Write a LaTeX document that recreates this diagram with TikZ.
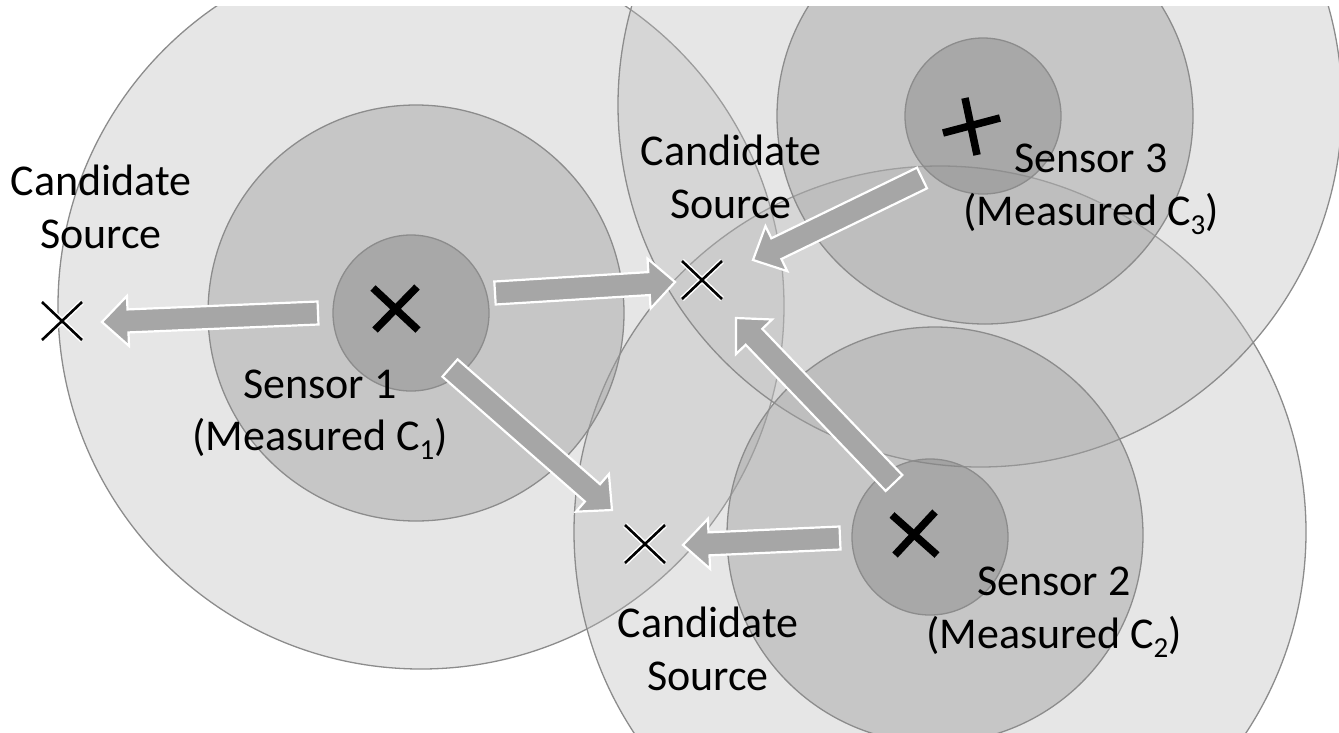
\documentclass[tikz,border=0pt]{standalone}
\usepackage{fontspec}
\setmainfont{Carlito}
\usetikzlibrary{calc}
\newcommand{\blockarr}[2]{%
  \path ($(#2)!26pt!(#1)$) coordinate (hb);
  \filldraw[blk] ($(#1)!11.5pt!90:(#2)$) -- ($(hb)!11.5pt!-90:(#1)$) -- ($(hb)!25pt!-90:(#1)$) -- (#2) -- ($(hb)!25pt!90:(#1)$) -- ($(hb)!11.5pt!90:(#1)$) -- ($(#1)!11.5pt!-90:(#2)$) -- cycle;}
\newcommand{\lowsub}[1]{\raisebox{-0.22em}{\fontsize{29}{30}\selectfont #1}}
\begin{document}
\begin{tikzpicture}[x=1pt,y=-1pt,
  ring/.style={draw=black!45, line width=1.3pt},
  outer/.style={ring, fill=black!27, fill opacity=0.36},
  middle/.style={ring, fill=black!37, fill opacity=0.45},
  inner/.style={ring, fill=black!53, fill opacity=0.39},
  blk/.style={fill=black!35, draw=white, line width=2.2pt, line join=miter},
  lbl/.style={font=\fontsize{44}{52}\selectfont, text=black, anchor=base, inner sep=0pt},
  smark/.style={line width=7.5pt, black, line cap=butt},
  cmark/.style={line width=2.6pt, black},
  halo/.style={line width=5.5pt, white}]
\useasboundingbox (0,0) rectangle (1339,732);
\begin{scope}
\clip (0,6) rectangle (1339,732);
% outer circles
\draw[outer] (421,306) circle[radius=363pt];
\draw[outer] (940,532) circle[radius=366pt];
\draw[outer] (980,105) circle[radius=362pt];
% middle circles
\draw[middle] (416,313) circle[radius=208pt];
\draw[middle] (935,535) circle[radius=208pt];
\draw[middle] (985,116) circle[radius=208pt];
% inner circles
\draw[inner] (411,313) circle[radius=78pt];
\draw[inner] (930,537) circle[radius=78pt];
\draw[inner] (983,116) circle[radius=78pt];
\end{scope}
% sensors and candidates
\coordinate (s1) at (396,309);
\coordinate (s2) at (915,534);
\coordinate (s3) at (971,126);
\coordinate (c1) at (62,321);
\coordinate (c2) at (702,280);
\coordinate (c3) at (645,544);
% arrow ends
\coordinate (a1t) at (318,313); \coordinate (a1h) at (102,322);
\coordinate (a2t) at (495,293); \coordinate (a2h) at (675,282);
\coordinate (a3t) at (450,368); \coordinate (a3h) at (612,510);
\coordinate (a4t) at (840,538); \coordinate (a4h) at (683,545);
\coordinate (a5t) at (894,483); \coordinate (a5h) at (736,318);
\coordinate (a6t) at (922,178); \coordinate (a6h) at (753,260);
\blockarr{a1t}{a1h}
\blockarr{a2t}{a2h}
\blockarr{a3t}{a3h}
\blockarr{a4t}{a4h}
\blockarr{a5t}{a5h}
\blockarr{a6t}{a6h}
% sensor marks
\draw[smark] ($(s1)+(-23,-21)$) -- ($(s1)+(22,21)$);
\draw[smark] ($(s1)+(21,-22)$) -- ($(s1)+(-21,21)$);
\draw[smark] ($(s2)+(-23,-19)$) -- ($(s2)+(22,21)$);
\draw[smark] ($(s2)+(20,-22)$) -- ($(s2)+(-20,21)$);
\draw[smark] ($(s3)+(-6,-28)$) -- ($(s3)+(6,29)$);
\draw[smark] ($(s3)+(-28,7)$) -- ($(s3)+(29,-8)$);
% candidate marks
\foreach \c in {c1,c2,c3}{
  \draw[halo] ($(\c)+(-20,-19)$) -- ($(\c)+(20,19)$);
  \draw[halo] ($(\c)+(20,-19)$) -- ($(\c)+(-20,19)$);
  \draw[cmark] ($(\c)+(-20,-19)$) -- ($(\c)+(20,19)$);
  \draw[cmark] ($(\c)+(20,-19)$) -- ($(\c)+(-20,19)$);
}
% labels
\node[lbl] (l1a) at (101,195) {Candidate};
\node[lbl] (l1b) at (101,248) {Source};
\node[lbl] (l2a) at (731,165) {Candidate};
\node[lbl] (l2b) at (731,218) {Source};
\node[lbl] (l3a) at (708,637) {Candidate};
\node[lbl] (l3b) at (708,690) {Source};
\node[lbl] (t1a) at (320,398) {Sensor 1};
\node[lbl] (t1b) at (320,450) {(Measured C\lowsub{1})};
\node[lbl] (t2a) at (1054,595) {Sensor 2};
\node[lbl] (t2b) at (1054,648) {(Measured C\lowsub{2})};
\node[lbl] (t3a) at (1091,172) {Sensor 3};
\node[lbl] (t3b) at (1091,225) {(Measured C\lowsub{3})};
\end{tikzpicture}
\end{document}
